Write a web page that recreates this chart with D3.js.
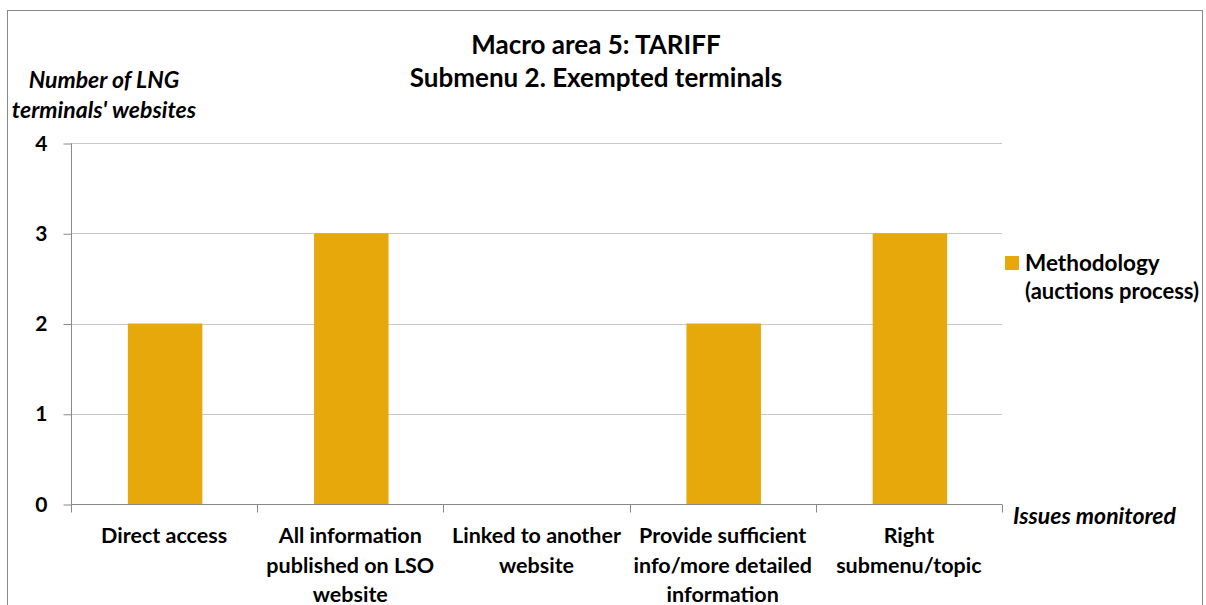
<!DOCTYPE html>
<html lang="en">
<head>
    <meta charset="UTF-8">
    <script src="https://d3js.org/d3.v7.min.js"></script>
    <style>
        body { margin: 0; background: #fff; }
        text { font-family: Lato, "Noto Sans", sans-serif; font-weight: bold; fill: #000; }
        .bar { fill: #E6A80A; }
    </style>
    <title>Macro area 5: TARIFF</title>
</head>
<body>
    <div id="chart"></div>
    <script>
        const categories = [
            ["Direct access"],
            ["All information", "published on LSO", "website"],
            ["Linked to another", "website"],
            ["Provide sufficient", "info/more detailed", "information"],
            ["Right", "submenu/topic"]
        ];
        const values = [2, 3, 0, 2, 3];
        const yTicks = [0, 1, 2, 3, 4];
        const seriesName = ["Methodology", "(auctions process)"];

        var width = 1206, height = 605;
        var plotLeft = 71, plotRight = 1002, plotTop = 143, plotBottom = 504;

        var svg = d3.select("#chart").append("svg")
            .attr("width", width)
            .attr("height", height);

        // chart frame
        svg.append("rect")
            .attr("x", 7.5).attr("y", 10.5)
            .attr("width", 1195).attr("height", 620)
            .attr("fill", "none").attr("stroke", "#888");

        var xScale = d3.scaleBand().domain(d3.range(categories.length)).range([plotLeft, plotRight]).padding(0);
        var yScale = d3.scaleLinear().domain([0, 4]).range([plotBottom, plotTop]);

        // gridlines
        svg.append("g").selectAll("line")
            .data(yTicks.filter(function(d) { return d > 0; }))
            .enter().append("line")
            .attr("x1", plotLeft).attr("x2", plotRight)
            .attr("y1", function(d) { return Math.round(yScale(d)) + 0.5; })
            .attr("y2", function(d) { return Math.round(yScale(d)) + 0.5; })
            .attr("stroke", "#c8c8c8");

        // bars
        var bw = xScale.bandwidth() * 0.4;
        svg.selectAll(".bar")
            .data(values)
            .enter().append("rect")
            .attr("class", "bar")
            .attr("x", function(d, i) { return xScale(i) + (xScale.bandwidth() - bw) / 2 + 1; })
            .attr("y", function(d) { return yScale(d); })
            .attr("width", bw)
            .attr("height", function(d) { return yScale(0) - yScale(d); });

        // y axis
        var yAxis = svg.append("g")
            .attr("transform", "translate(" + (plotLeft + 0.5) + ",0.5)")
            .call(d3.axisLeft(yScale).tickValues(yTicks).tickSize(8).tickPadding(16).tickFormat(d3.format("d")));
        yAxis.select(".domain").attr("stroke", "#888").attr("d", "M0," + plotTop + "V" + plotBottom);
        yAxis.selectAll(".tick line").attr("stroke", "#888");
        yAxis.selectAll("text").attr("font-size", "21px").attr("font-family", "Lato, sans-serif").attr("font-weight", "bold");

        // x axis
        var xAxis = svg.append("g")
            .attr("transform", "translate(0," + (plotBottom + 0.5) + ")")
            .call(d3.axisBottom(xScale).tickSize(0).tickFormat(""));
        xAxis.select(".domain").attr("stroke", "#888").attr("d", "M" + plotLeft + ",0H" + plotRight);
        // category separator ticks
        xAxis.selectAll(".sep")
            .data(d3.range(categories.length + 1))
            .enter().append("line")
            .attr("x1", function(i) { return Math.round(plotLeft + i * xScale.step()) + 0.5; })
            .attr("x2", function(i) { return Math.round(plotLeft + i * xScale.step()) + 0.5; })
            .attr("y1", 0).attr("y2", 8)
            .attr("stroke", "#888");

        // category labels
        svg.append("g").selectAll("text")
            .data(categories)
            .enter().append("text")
            .attr("text-anchor", "middle")
            .attr("font-size", "21.5px")
            .attr("transform", function(d, i) { return "translate(" + (xScale(i) + xScale.bandwidth() / 2) + ",543)"; })
            .selectAll("tspan")
            .data(function(d) { return d; })
            .enter().append("tspan")
            .attr("x", 0)
            .attr("y", function(d, j) { return j * 29.5; })
            .text(function(d) { return d; });

        // title
        svg.append("text").attr("x", 596).attr("y", 54).attr("text-anchor", "middle")
            .attr("font-size", "26px").text("Macro area 5: TARIFF");
        svg.append("text").attr("x", 596).attr("y", 87).attr("text-anchor", "middle")
            .attr("font-size", "26px").text("Submenu 2. Exempted terminals");

        // axis titles
        svg.append("text").attr("x", 104).attr("y", 88).attr("text-anchor", "middle")
            .attr("font-size", "23px").attr("font-style", "italic").text("Number of LNG");
        svg.append("text").attr("x", 104).attr("y", 118).attr("text-anchor", "middle")
            .attr("font-size", "23px").attr("font-style", "italic").text("terminals' websites");
        svg.append("text").attr("x", 1013).attr("y", 524)
            .attr("font-size", "23px").attr("font-style", "italic").text("Issues monitored");

        // legend
        svg.append("rect").attr("class", "bar")
            .attr("x", 1005).attr("y", 256).attr("width", 14).attr("height", 14);
        svg.append("text").attr("x", 1025).attr("y", 271).attr("font-size", "22.5px").text(seriesName[0]);
        svg.append("text").attr("x", 1025).attr("y", 299).attr("font-size", "22px").text(seriesName[1]);
    </script>
</body>
</html>
